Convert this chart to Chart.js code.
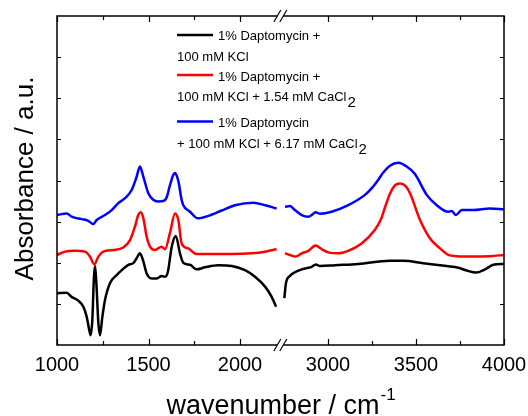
<!DOCTYPE html>
<html>
<head>
<meta charset="utf-8">
<script src="https://cdn.jsdelivr.net/npm/chart.js@4.4.0/dist/chart.umd.min.js"></script>
<style>
  html, body { margin: 0; padding: 0; background: #fff; }
  #wrap { width: 528px; height: 416px; }
</style>
</head>
<body>
<div id="wrap"><canvas id="chart"></canvas></div>
<script>
// spectra (wavenumber in cm-1, absorbance in arbitrary units)
const kclWn = [1000, 1053, 1080, 1116, 1144, 1162, 1176, 1184, 1193, 1202, 1208, 1215, 1226, 1235, 1248, 1262, 1290, 1326, 1354, 1390,
  1417, 1435, 1453, 1472, 1490, 1517, 1545, 1572, 1590, 1606, 1627, 1649, 1672, 1690, 1727, 1763, 1809, 1881, 1955, 2027,
  2082, 2137, 2173, 2197,
  2752, 2761, 2784, 2812, 2851, 2879, 2907, 2930, 2955, 3040, 3172, 3352, 3428, 3541, 3674, 3740, 3788, 3841, 3892, 3939, 4000];
const kclAbs = [1.26, 1.27, 1.17, 1.08, 0.93, 0.69, 0.37, 0.24, 0.61, 1.66, 1.92, 1.51, 0.54, 0.24, 0.69, 1.09, 1.51, 1.70, 1.82, 1.95,
  1.99, 2.11, 2.23, 2.03, 1.74, 1.62, 1.62, 1.68, 1.66, 1.78, 2.39, 2.65, 2.23, 2.00, 1.95, 1.84, 1.89, 1.94, 1.92, 1.82,
  1.66, 1.42, 1.17, 0.93,
  1.14, 1.50, 1.68, 1.77, 1.84, 1.87, 1.90, 1.96, 1.92, 1.94, 1.97, 2.05, 2.05, 1.99, 1.92, 1.88, 1.81, 1.76, 1.84, 1.95, 1.97];

const ca154Wn = [1000, 1044, 1098, 1153, 1180, 1204, 1226, 1253, 1308, 1362, 1399, 1426, 1444, 1459, 1472, 1490, 1508, 1535, 1572, 1590,
  1617, 1645, 1663, 1681, 1717, 1763, 1863, 1955, 2064, 2137, 2200,
  2756, 2784, 2816, 2851, 2888, 2930, 2964, 3011, 3059, 3115, 3191, 3267, 3300, 3324, 3352, 3380, 3409, 3440, 3466, 3523, 3580,
  3636, 3684, 3731, 3826, 3920, 4000];
const ca154Abs = [2.19, 2.27, 2.29, 2.27, 2.15, 1.96, 2.15, 2.27, 2.31, 2.37, 2.55, 2.88, 3.16, 3.23, 3.08, 2.63, 2.39, 2.31, 2.39, 2.33,
  2.72, 3.20, 3.04, 2.47, 2.35, 2.21, 2.21, 2.21, 2.23, 2.27, 2.33,
  2.23, 2.19, 2.15, 2.23, 2.29, 2.42, 2.33, 2.24, 2.23, 2.29, 2.47, 2.80, 3.05, 3.35, 3.68, 3.88, 3.93, 3.87, 3.69, 3.04, 2.59,
  2.35, 2.19, 2.16, 2.15, 2.16, 2.19];

const ca617Wn = [1000, 1053, 1080, 1135, 1171, 1198, 1217, 1262, 1299, 1335, 1372, 1408, 1435, 1453, 1472, 1499, 1526, 1553, 1581, 1600,
  1617, 1632, 1645, 1657, 1667, 1680, 1690, 1727, 1769, 1827, 1900, 1973, 2073, 2137, 2200,
  2756, 2784, 2812, 2851, 2888, 2916, 2930, 2955, 3021, 3115, 3210, 3250, 3286, 3315, 3352, 3399, 3447, 3494, 3561, 3618, 3684,
  3703, 3727, 3760, 3826, 3920, 4000];
const ca617Abs = [3.16, 3.20, 3.12, 3.06, 3.02, 2.94, 3.04, 3.16, 3.28, 3.45, 3.57, 3.77, 4.09, 4.34, 4.09, 3.69, 3.53, 3.49, 3.50, 3.60,
  3.88, 4.10, 4.18, 4.08, 3.90, 3.55, 3.40, 3.24, 3.08, 3.14, 3.27, 3.40, 3.46, 3.40, 3.32,
  3.36, 3.38, 3.28, 3.16, 3.12, 3.19, 3.23, 3.19, 3.24, 3.40, 3.65, 3.82, 4.02, 4.20, 4.36, 4.43, 4.34, 4.16, 3.65, 3.40, 3.24,
  3.26, 3.16, 3.28, 3.28, 3.32, 3.30];

const seriesFirstLine = ['1% Daptomycin +', '1% Daptomycin +', '1% Daptomycin'];
const seriesSecondLine = ['100 mM KCl', '100 mM KCl + 1.54 mM CaCl', '+ 100 mM KCl + 6.17 mM CaCl'];
const seriesSubscript = ['', '2', '2'];
const seriesColors = ['#000000', '#ff0000', '#0000ff'];

const xTickLabels = [1000, 1500, 2000, 3000, 3500, 4000];
const xMinorTicks = [1250, 1750, 3250, 3750];
const yTicks = [1, 2, 3, 4, 5, 6, 7];

// broken axis: 1000-2200 on the left, 2750-4000 on the right
const LEFT_END = 2200;
const RIGHT_START = 2750;
function toAxis(w) {
  return w <= LEFT_END ? (w - 1000) * 0.183 : 271 + (w - 3000) * 0.176;
}

function makePoints(wn, abs) {
  const pts = [];
  for (let i = 0; i < wn.length; i++) {
    if (i > 0 && wn[i - 1] <= LEFT_END && wn[i] >= RIGHT_START) {
      pts.push({ x: toAxis(LEFT_END) + 3, y: null });
    }
    pts.push({ x: toAxis(wn[i]), y: abs[i] });
  }
  return pts;
}

const FONT = '"Liberation Sans", Arial, sans-serif';

const decorPlugin = {
  id: 'decor',
  afterDraw(chart) {
    const ctx = chart.ctx;
    const a = chart.chartArea;
    const xs = chart.scales.x;
    const ys = chart.scales.y;
    ctx.save();
    ctx.strokeStyle = '#000';
    ctx.fillStyle = '#000';
    ctx.lineWidth = 1.5;
    ctx.strokeRect(a.left, a.top, a.right - a.left, a.bottom - a.top);

    // ticks pointing inward
    ctx.lineWidth = 1.2;
    function xTick(w, len) {
      const px = Math.round(xs.getPixelForValue(toAxis(w))) + 0.5;
      ctx.beginPath();
      ctx.moveTo(px, a.bottom); ctx.lineTo(px, a.bottom - len);
      ctx.moveTo(px, a.top); ctx.lineTo(px, a.top + len);
      ctx.stroke();
    }
    xTickLabels.forEach(w => xTick(w, 6));
    xMinorTicks.forEach(w => xTick(w, 4));
    yTicks.forEach(v => {
      const py = Math.round(ys.getPixelForValue(v)) + 0.5;
      ctx.beginPath();
      ctx.moveTo(a.left, py); ctx.lineTo(a.left + 4, py);
      ctx.moveTo(a.right, py); ctx.lineTo(a.right - 4, py);
      ctx.stroke();
    });

    // axis break marks
    const bx = (xs.getPixelForValue(toAxis(LEFT_END)) + xs.getPixelForValue(toAxis(RIGHT_START))) / 2;
    [a.top, a.bottom].forEach(yy => {
      ctx.fillStyle = '#fff';
      ctx.fillRect(bx - 3, yy - 2, 6, 4);
      ctx.strokeStyle = '#000';
      ctx.lineWidth = 1.2;
      [-3, 3].forEach(off => {
        ctx.beginPath();
        ctx.moveTo(bx + off - 3.5, yy + 6);
        ctx.lineTo(bx + off + 3.5, yy - 6);
        ctx.stroke();
      });
    });

    // tick labels
    ctx.fillStyle = '#000';
    ctx.font = '20px ' + FONT;
    ctx.textAlign = 'center';
    ctx.textBaseline = 'alphabetic';
    xTickLabels.forEach(w => {
      ctx.fillText(String(w), xs.getPixelForValue(toAxis(w)), a.bottom + 26);
    });

    // x title with superscript
    const cx = (a.left + a.right) / 2;
    ctx.font = '27px ' + FONT;
    const main = 'wavenumber / cm';
    const mw = ctx.measureText(main).width;
    ctx.font = '17px ' + FONT;
    const sw = ctx.measureText('-1').width;
    const x0 = cx - (mw + sw) / 2;
    ctx.textAlign = 'left';
    ctx.font = '27px ' + FONT;
    ctx.fillText(main, x0, 414);
    ctx.font = '17px ' + FONT;
    ctx.fillText('-1', x0 + mw + 1, 400);

    // y title
    ctx.save();
    ctx.translate(33, (a.top + a.bottom) / 2 - 2);
    ctx.rotate(-Math.PI / 2);
    ctx.textAlign = 'center';
    ctx.font = '26px ' + FONT;
    ctx.fillText('Absorbance / a.u.', 0, 0);
    ctx.restore();

    // legend
    const rows = [
      { line: 35, first: 39.5, second: 60.7 },
      { line: 75, first: 80.5, second: 101 },
      { line: 121.5, first: 127, second: 148.3 }
    ];
    ctx.textAlign = 'left';
    rows.forEach((r, i) => {
      ctx.strokeStyle = seriesColors[i];
      ctx.lineWidth = 2.5;
      ctx.beginPath();
      ctx.moveTo(177, r.line); ctx.lineTo(213, r.line);
      ctx.stroke();
      ctx.fillStyle = '#000';
      ctx.font = '13px ' + FONT;
      ctx.fillText(seriesFirstLine[i], 218, r.first);
      ctx.fillText(seriesSecondLine[i], 177, r.second);
      if (seriesSubscript[i]) {
        const w = ctx.measureText(seriesSecondLine[i]).width;
        ctx.font = '15px ' + FONT;
        ctx.fillText(seriesSubscript[i], 177 + w + 1, r.second + 6);
      }
    });
    ctx.restore();
  }
};

new Chart(document.getElementById('chart'), {
  type: 'line',
  data: {
    datasets: [
      { data: makePoints(ca617Wn, ca617Abs), borderColor: seriesColors[2] },
      { data: makePoints(ca154Wn, ca154Abs), borderColor: seriesColors[1] },
      { data: makePoints(kclWn, kclAbs), borderColor: seriesColors[0] }
    ].map(d => Object.assign(d, {
      borderWidth: 2.5,
      pointRadius: 0,
      fill: false,
      spanGaps: false,
      cubicInterpolationMode: 'monotone'
    }))
  },
  options: {
    responsive: true,
    maintainAspectRatio: false,
    animation: false,
    layout: { padding: { left: 57, right: 24, top: 16, bottom: 71 } },
    scales: {
      x: { type: 'linear', min: 0, max: 447, display: false },
      y: { min: 0, max: 8, display: false }
    },
    plugins: { legend: { display: false }, tooltip: { enabled: false } }
  },
  plugins: [decorPlugin]
});
</script>
</body>
</html>
